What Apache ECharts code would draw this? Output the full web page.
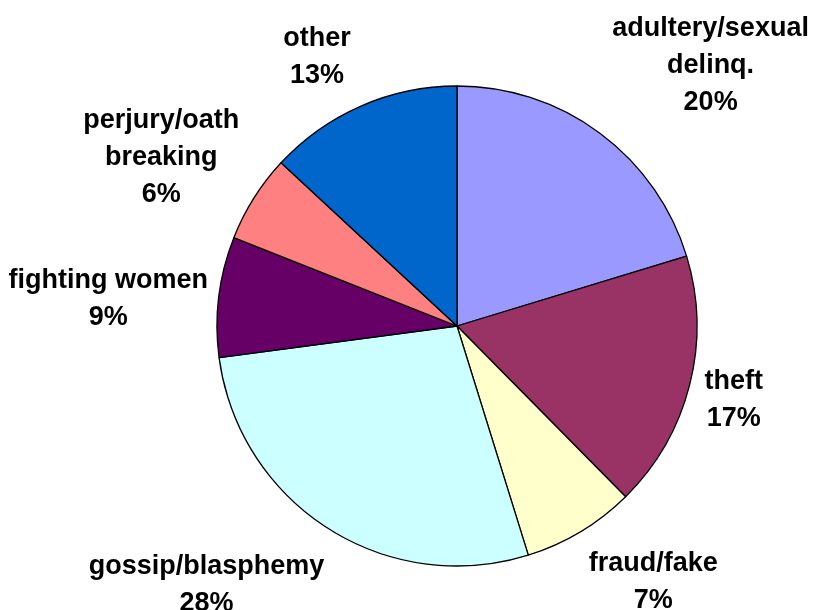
<!DOCTYPE html>
<html>
<head>
<meta charset="utf-8">
<script src="https://cdn.jsdelivr.net/npm/echarts@6/dist/echarts.min.js"></script>
<style>
  html, body { margin: 0; padding: 0; background: #fff; }
</style>
</head>
<body>
<div id="pie" style="width: 815px; height: 610px;"></div>
<script>
// categories, clockwise from 12 o'clock
const categories = ['adultery/sexual\ndelinq.', 'theft', 'fraud/fake', 'gossip/blasphemy', 'fighting women', 'perjury/oath\nbreaking', 'other']
// slice sizes (in %)
const shares = [20.3, 17.3, 7.6, 27.7, 8.1, 5.9, 13.1]
// percentages as printed on the chart
const pctLabels = ['20%', '17%', '7%', '28%', '9%', '6%', '13%']
const colors = ['#9999FF', '#993366', '#FFFFCC', '#CCFFFF', '#660066', '#FF8080', '#0066CC']

// nudges for the labels, relative to where the pie puts them
const labelNudge = [[70, -19], [-19, 0], [37, -1], [-84, 6], [-46, 10], [-37, -9], [-15, 6]]

let data = []
for (let i = 0; i < categories.length; i++) {
    data.push({
        name: categories[i],
        value: shares[i],
        itemStyle: { color: colors[i] }
    })
}

const chart = echarts.init(document.getElementById('pie'))
let option = {
    animation: false,
    series: [
        {
            type: 'pie',
            center: [457, 326],
            radius: 240,
            startAngle: 90,
            clockwise: true,
            avoidLabelOverlap: false,
            itemStyle: {
                borderColor: '#000',
                borderWidth: 1.3
            },
            label: {
                show: true,
                position: 'outside',
                formatter: function (p) {
                    return p.name + '\n' + pctLabels[p.dataIndex]
                },
                color: '#000',
                fontFamily: 'Arial, "Liberation Sans", sans-serif',
                fontWeight: 'bold',
                fontSize: 27,
                lineHeight: 37
            },
            labelLine: {
                show: false,
                length: 60,
                length2: 0
            },
            labelLayout: function (params) {
                const n = labelNudge[params.dataIndex]
                return { align: 'center', verticalAlign: 'middle', dx: n[0], dy: n[1] }
            },
            data: data
        }
    ]
}
chart.setOption(option)
</script>
</body>
</html>
